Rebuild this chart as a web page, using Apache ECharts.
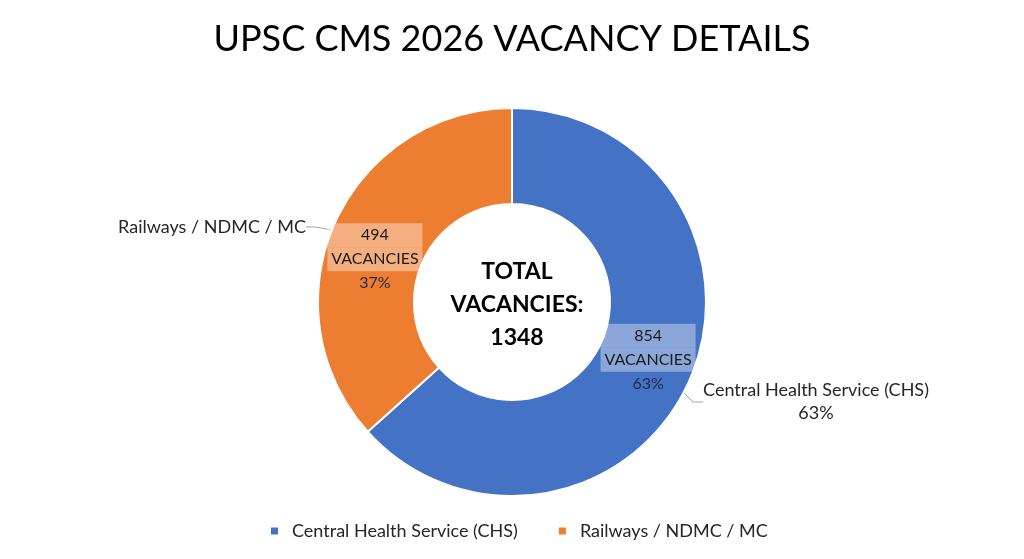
<!DOCTYPE html>
<html>
<head>
<meta charset="utf-8">
<script src="https://cdn.jsdelivr.net/npm/echarts@6/dist/echarts.min.js"></script>
<style>
  html, body { margin: 0; padding: 0; background: #fff; }
  #chart { width: 1024px; height: 559px; }
</style>
</head>
<body>
<div id="chart"></div>
<script>
// dados do gráfico
var categorias = ['Central Health Service (CHS)', 'Railways / NDMC / MC'];
var vagas = [854, 494];
var cores = ['#4472C4', '#ED7D31'];
var tituloTexto = 'UPSC CMS 2026 VACANCY DETAILS';
var totalTexto = 'TOTAL\nVACANCIES:\n1348';

var fonte = 'Lato';

// pequenos ajustes nas etiquetas internas
var ajustes = [[0, 0, 6, 0], [36, 2, 0, 0]];

var dadosInternos = categorias.map(function (nome, i) {
    return { name: nome, value: vagas[i], label: { padding: ajustes[i] } };
});

var dadosExternos = categorias.map(function (nome, i) {
    return { name: nome, value: vagas[i] };
});

// posição das etiquetas de fora (texto)
var posEtiquetas = [
    { x: 816, y: 402, align: 'center' },
    { x: 306, y: 227, align: 'right' }
];

option = {
    backgroundColor: '#fff',
    color: cores,
    title: [
        {
            text: tituloTexto,
            left: 'center',
            top: 12,
            textStyle: {
                fontFamily: fonte,
                fontSize: 36,
                fontWeight: 'normal',
                color: '#000',
                lineHeight: 44
            }
        },
        {
            text: totalTexto,
            left: 512,
            top: 250,
            textAlign: 'center',
            textStyle: {
                fontFamily: fonte,
                fontSize: 23,
                fontWeight: 'bold',
                color: '#000',
                lineHeight: 33,
                align: 'center'
            }
        }
    ],
    legend: {
        data: categorias,
        left: 269,
        top: 522,
        padding: 0,
        icon: 'rect',
        itemWidth: 9,
        itemHeight: 9,
        itemGap: 39,
        textStyle: {
            fontFamily: fonte,
            fontSize: 18,
            color: '#262626',
            padding: [0, 0, 0, 8]
        }
    },
    series: [
        {
            name: 'vagas',
            type: 'pie',
            center: [512, 302],
            radius: [98, 194],
            startAngle: 90,
            clockwise: true,
            silent: true,
            avoidLabelOverlap: false,
            percentPrecision: 0,
            itemStyle: {
                borderColor: '#fff',
                borderWidth: 2
            },
            label: {
                show: true,
                position: 'inside',
                formatter: function (p) {
                    return '{b|' + p.value + '}\n{b|VACANCIES}\n{p|' + p.percent + '%}';
                },
                rich: {
                    b: {
                        fontFamily: fonte,
                        fontSize: 16,
                        color: '#1a1a1a',
                        width: 95,
                        height: 24,
                        lineHeight: 24,
                        align: 'center',
                        backgroundColor: 'rgba(255,255,255,0.38)'
                    },
                    p: {
                        fontFamily: fonte,
                        fontSize: 16,
                        color: '#1f2a44',
                        lineHeight: 24,
                        align: 'center'
                    }
                }
            },
            labelLine: { show: false },
            data: dadosInternos
        },
        {
            name: 'etiquetas',
            type: 'pie',
            center: [512, 302],
            radius: [0, 160],
            startAngle: 90,
            clockwise: true,
            silent: true,
            avoidLabelOverlap: false,
            percentPrecision: 0,
            itemStyle: { color: 'rgba(0,0,0,0)' },
            label: {
                show: true,
                position: 'outside',
                fontFamily: fonte,
                fontSize: 18,
                lineHeight: 23,
                color: '#262626',
                opacity: 1,
                formatter: function (p) {
                    return p.dataIndex === 0 ? p.name + '\n' + p.percent + '%' : p.name;
                }
            },
            labelLine: {
                show: true,
                length: 20,
                length2: 10,
                lineStyle: { color: '#a6a6a6', width: 1, opacity: 1 }
            },
            labelLayout: function (params) {
                var pos = posEtiquetas[params.dataIndex];
                return {
                    x: pos.x,
                    y: pos.y,
                    align: pos.align,
                    verticalAlign: 'middle'
                };
            },
            data: dadosExternos
        }
    ]
};

var myChart = echarts.init(document.getElementById('chart'));
myChart.setOption(option);
</script>
</body>
</html>
